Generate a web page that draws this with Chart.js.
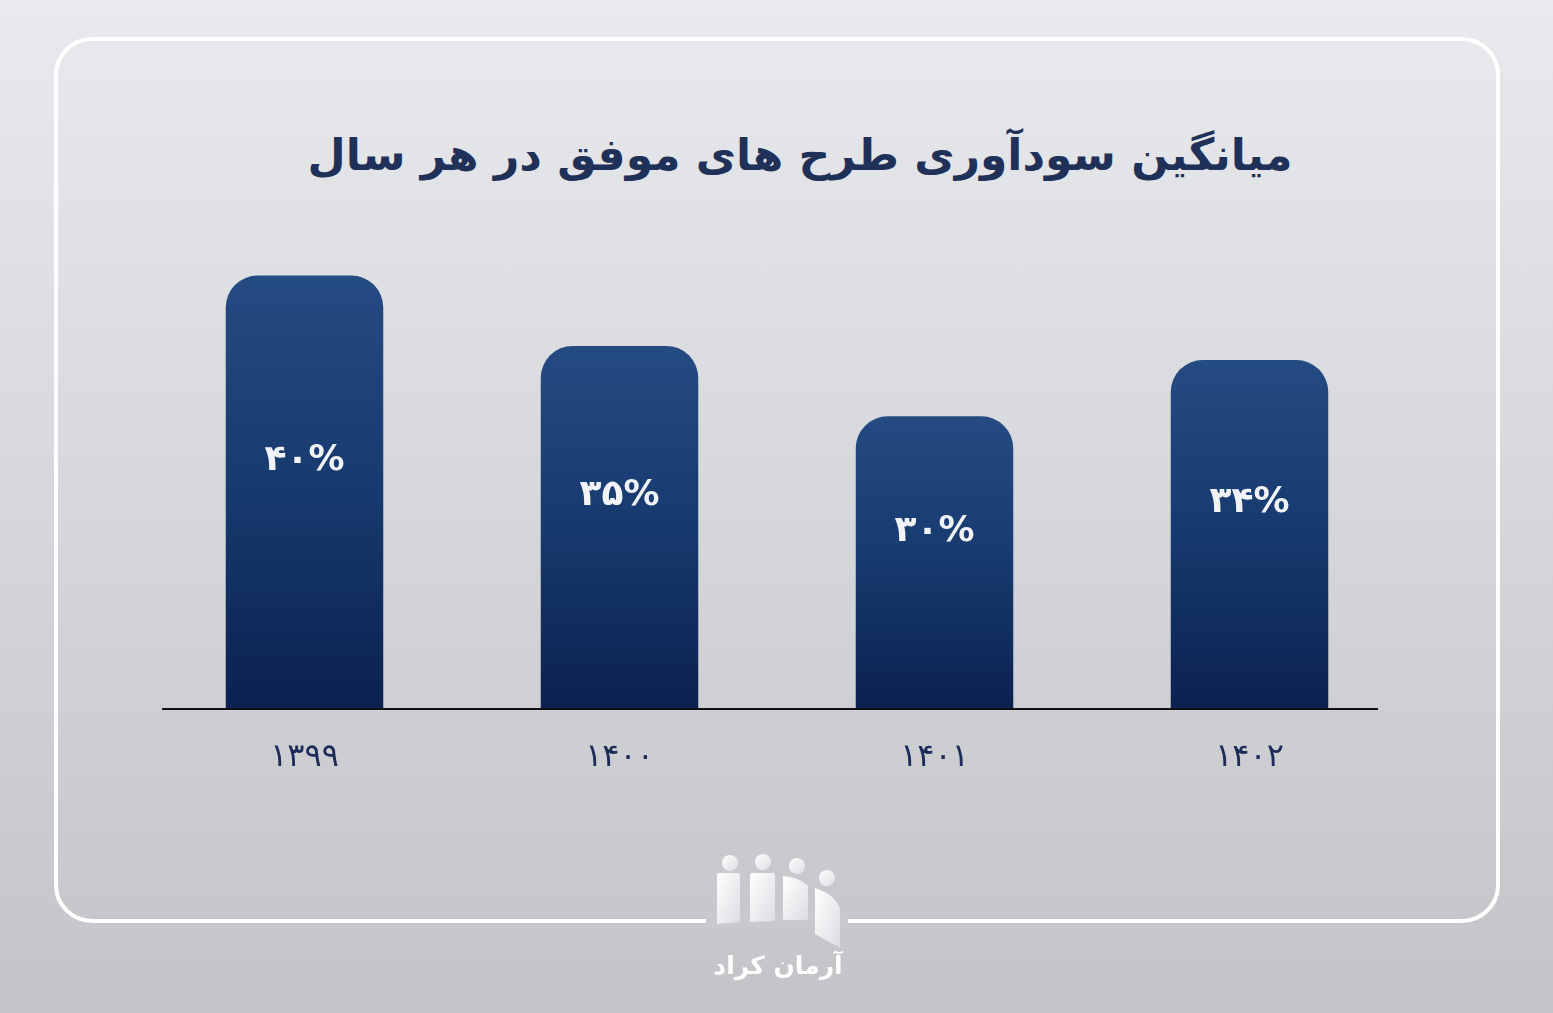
<!DOCTYPE html>
<html lang="fa">
<head>
<meta charset="utf-8">
<script src="https://cdn.jsdelivr.net/npm/chart.js@4.4.1/dist/chart.umd.min.js"></script>
<style>
    html, body { margin: 0; padding: 0; }
    body {
        width: 1553px; height: 1013px; overflow: hidden; position: relative;
        background: linear-gradient(180deg, #e9eaed 0%, #d6d7da 50%, #c3c4c8 100%);
        font-family: "DejaVu Sans", sans-serif;
    }
    .card {
        position: absolute; left: 54px; top: 37px; width: 1438px; height: 878px;
        border: 4px solid #ffffff; border-radius: 38px;
    }
    .gap {
        position: absolute; left: 706px; top: 912px; width: 142px; height: 16px;
        background: #c9cacd;
    }
    .title {
        position: absolute; left: 0; top: 129px; width: 1600px; text-align: center;
        direction: rtl; color: #1f3159; font-weight: bold; font-size: 44px;
    }
    #chart { position: absolute; left: 0; top: 0; }
    .logo { position: absolute; left: 706px; top: 850px; }
    .logo-text {
        position: absolute; left: 700px; top: 951px; width: 156px; text-align: center;
        direction: rtl; color: #ffffff; font-weight: bold; font-size: 25px;
    }
</style>
</head>
<body>
<div class="card"></div>
<div class="gap"></div>
<div class="title">میانگین سودآوری طرح های موفق در هر سال</div>
<canvas id="chart" width="1553" height="1013"></canvas>
<svg class="logo" width="142" height="100" viewBox="0 0 142 100">
    <defs>
        <linearGradient id="lg" x1="0" y1="0" x2="1" y2="1">
            <stop offset="0" stop-color="#ffffff"/>
            <stop offset="1" stop-color="#dcdde2"/>
        </linearGradient>
    </defs>
    <circle cx="24" cy="13" r="8" fill="url(#lg)"/>
    <circle cx="57" cy="12" r="8" fill="url(#lg)"/>
    <circle cx="91" cy="16" r="8" fill="url(#lg)"/>
    <circle cx="121" cy="28" r="8" fill="url(#lg)"/>
    <path d="M11 25 Q11 23 13 23 L32 23 Q34 23 34 25 L34 72 L11 74 Z" fill="url(#lg)"/>
    <path d="M44 25 Q44 23 46 23 L67 23 Q69 23 69 25 L69 71 L44 72 Z" fill="url(#lg)"/>
    <path d="M77 26 Q93 27 102 36 L102 70 L77 70 Z" fill="url(#lg)"/>
    <path d="M109 38 Q128 44 134 58 L134 98 L109 84 Z" fill="url(#lg)"/>
</svg>
<div class="logo-text">آرمان کراد</div>

<script>
// داده‌های نمودار
const years = ['1399', '1400', '1401', '1402'];
const profitValues = [40, 35, 30, 34];

function toPersianDigits(str) {
    const fa = ['۰', '۱', '۲', '۳', '۴', '۵', '۶', '۷', '۸', '۹'];
    return String(str).replace(/[0-9]/g, d => fa[d]);
}

// گرادیان هر ستون
function barGradient(context) {
    const chart = context.chart;
    const area = chart.chartArea;
    if (!area) return '#173468';
    const top = chart.scales.y.getPixelForValue(context.raw);
    const g = chart.ctx.createLinearGradient(0, top, 0, area.bottom);
    g.addColorStop(0, '#244b82');
    g.addColorStop(0.5, '#173a6e');
    g.addColorStop(1, '#0b2150');
    return g;
}

// خط پایه، برچسب سال‌ها و درصدها
const labelsPlugin = {
    id: 'labelsPlugin',
    afterDatasetsDraw(chart) {
        const ctx = chart.ctx;
        const area = chart.chartArea;
        const xScale = chart.scales.x;
        const meta = chart.getDatasetMeta(0);

        ctx.save();
        ctx.strokeStyle = '#111111';
        ctx.lineWidth = 2;
        ctx.beginPath();
        ctx.moveTo(area.left + 15, area.bottom + 1);
        ctx.lineTo(area.right - 29, area.bottom + 1);
        ctx.stroke();

        ctx.textAlign = 'center';
        ctx.textBaseline = 'middle';
        ctx.direction = 'ltr';

        meta.data.forEach((bar, i) => {
            const x = xScale.getPixelForTick(i);
            ctx.fillStyle = '#1c2c5a';
            ctx.font = '32px "DejaVu Sans"';
            ctx.fillText(toPersianDigits(years[i]), x, area.bottom + 50);

            const mid = (bar.y + area.bottom) / 2 - 31;
            ctx.fillStyle = '#f2f3f6';
            ctx.font = 'bold 36px "DejaVu Sans"';
            ctx.fillText(toPersianDigits(profitValues[i]) + '%', bar.x, mid);
        });
        ctx.restore();
    }
};

new Chart(document.getElementById('chart').getContext('2d'), {
    type: 'bar',
    data: {
        labels: years,
        datasets: [{
            data: profitValues,
            backgroundColor: barGradient,
            borderRadius: { topLeft: 32, topRight: 32, bottomLeft: 0, bottomRight: 0 },
            borderSkipped: false,
            categoryPercentage: 1,
            barPercentage: 0.5
        }]
    },
    options: {
        responsive: false,
        animation: false,
        layout: { padding: { left: 147, right: 146, top: 205, bottom: 305 } },
        plugins: { legend: { display: false }, tooltip: { enabled: false } },
        scales: {
            x: { display: false },
            y: { display: false, min: 9.3, max: 45 }
        }
    },
    plugins: [labelsPlugin]
});
</script>
</body>
</html>
